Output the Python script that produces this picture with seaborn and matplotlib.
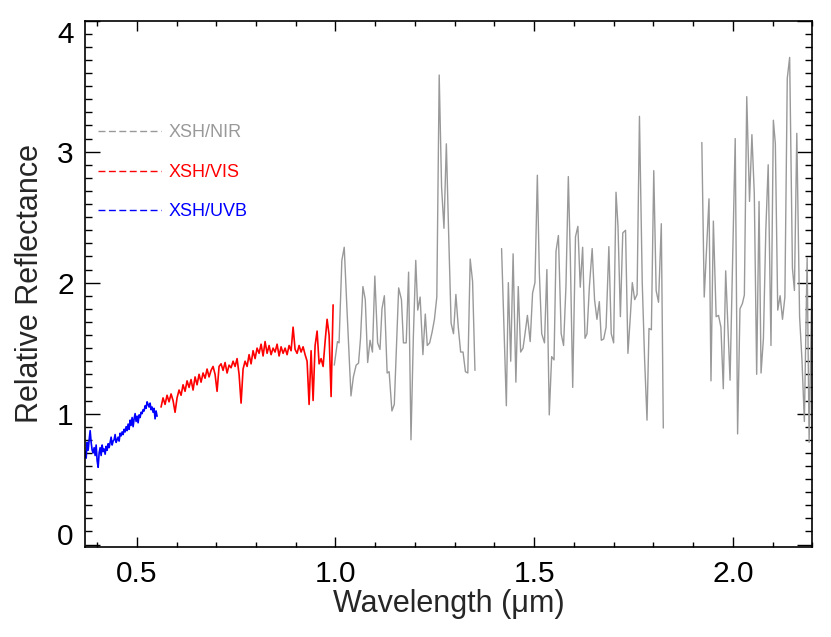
import numpy as np
import pandas as pd
import matplotlib
matplotlib.use("Agg")
import matplotlib.pyplot as plt
import seaborn as sns
from matplotlib.lines import Line2D
from matplotlib.ticker import MultipleLocator

# UVB arm (blue), uniform sampling between the first and last wavelength
uvb_range = (0.370, 0.551)
uvb_refl = [
    0.71, 0.66, 0.78, 0.72, 0.80, 0.87, 0.78, 0.72, 0.70, 0.74,
    0.68, 0.76, 0.64, 0.59, 0.70, 0.74, 0.68, 0.76, 0.71, 0.73,
    0.69, 0.75, 0.72, 0.77, 0.74, 0.78, 0.82, 0.76, 0.79, 0.80,
    0.84, 0.78, 0.80, 0.82, 0.79, 0.85, 0.83, 0.86, 0.84, 0.88,
    0.86, 0.90, 0.87, 0.92, 0.88, 0.95, 0.91, 0.97, 0.90, 0.96,
    1.00, 0.94, 0.98, 0.93, 0.99, 0.97, 1.01, 1.00, 1.03, 1.02,
    1.06, 1.04, 1.09, 1.07, 1.05, 1.08, 1.03, 1.05, 1.01, 1.04,
    0.96, 1.02, 0.98,
]

# VIS arm (red)
vis_range = (0.561, 0.994)
vis_refl = [
    1.05, 1.12, 1.07, 1.14, 1.09, 1.15, 1.10, 1.01, 1.12, 1.18,
    1.14, 1.22, 1.17, 1.25, 1.20, 1.26, 1.18, 1.28, 1.22, 1.30,
    1.24, 1.31, 1.27, 1.34, 1.28, 1.33, 1.36, 1.30, 1.17, 1.36,
    1.38, 1.33, 1.39, 1.31, 1.37, 1.35, 1.40, 1.36, 1.42, 1.30,
    1.08, 1.34, 1.40, 1.36, 1.45, 1.38, 1.48, 1.42, 1.50, 1.46,
    1.53, 1.44, 1.55, 1.46, 1.52, 1.45, 1.50, 1.47, 1.53, 1.44,
    1.51, 1.46, 1.50, 1.45, 1.52, 1.48, 1.66, 1.49, 1.46, 1.52,
    1.47, 1.51, 1.45, 1.40, 1.07, 1.48, 1.10, 1.52, 1.63, 1.38,
    1.42, 1.36, 1.55, 1.72, 1.60, 1.13, 1.83,
]

# NIR arm (grey), three pieces separated by the telluric bands
nir_wl_1 = [
    0.997, 1.005, 1.009, 1.016, 1.022, 1.029, 1.039, 1.045, 1.052, 1.058,
    1.063, 1.069, 1.075, 1.081, 1.087, 1.093, 1.099, 1.106, 1.112, 1.117,
    1.123, 1.130, 1.135, 1.142, 1.148, 1.159, 1.166, 1.171, 1.178, 1.184,
    1.190, 1.196, 1.202, 1.207, 1.213, 1.220, 1.226, 1.231, 1.237, 1.243,
    1.249, 1.255, 1.261, 1.267, 1.273, 1.279, 1.285, 1.291, 1.297, 1.303,
    1.309, 1.315, 1.321, 1.327, 1.333, 1.339, 1.345, 1.351,
]
nir_refl_1 = [
    1.37, 1.55, 1.54, 2.17, 2.27, 1.79, 1.135, 1.28, 1.37, 1.385,
    1.575, 1.97, 1.87, 1.39, 1.56, 1.47, 2.05, 1.54, 1.49, 1.80,
    1.90, 1.31, 1.32, 1.02, 1.07, 1.96, 1.87, 1.54, 1.54, 2.08,
    0.80, 1.59, 2.17, 1.79, 1.89, 1.45, 1.76, 1.52, 1.54, 1.62,
    1.72, 1.89, 3.585, 2.73, 2.415, 3.06, 2.35, 1.69, 1.61, 1.91,
    1.66, 1.47, 1.47, 1.32, 1.31, 2.18, 2.01, 1.33,
]
nir_wl_2 = [
    1.418, 1.430, 1.435, 1.441, 1.447, 1.454, 1.460, 1.466, 1.472, 1.477,
    1.483, 1.490, 1.496, 1.502, 1.508, 1.513, 1.519, 1.526, 1.532, 1.538,
    1.544, 1.550, 1.555, 1.561, 1.568, 1.574, 1.580, 1.586, 1.591, 1.597,
    1.604, 1.610, 1.616, 1.622, 1.628, 1.633, 1.639, 1.646, 1.652, 1.658,
    1.664, 1.669, 1.675, 1.681, 1.688, 1.694, 1.700, 1.706, 1.711, 1.717,
    1.723, 1.730, 1.736, 1.742, 1.747, 1.753, 1.759, 1.765, 1.772, 1.778,
    1.784, 1.789, 1.795, 1.801, 1.807, 1.813, 1.820, 1.825,
]
nir_refl_2 = [
    2.26, 1.06, 2.00, 1.40, 2.22, 1.24, 1.97, 1.47, 1.50, 1.61,
    1.75, 1.55, 1.92, 2.00, 2.82, 2.08, 1.61, 1.54, 2.10, 0.99,
    1.435, 1.41, 2.24, 2.36, 1.61, 1.52, 1.97, 2.81, 2.20, 1.20,
    2.35, 2.43, 1.965, 2.27, 1.575, 1.61, 1.97, 2.26, 1.87, 1.72,
    1.855, 1.56, 1.57, 1.66, 2.275, 1.61, 1.54, 2.69, 2.43, 1.74,
    2.38, 2.40, 1.46, 1.74, 2.00, 1.87, 1.91, 3.27, 2.00, 1.41,
    0.95, 1.65, 1.64, 2.855, 1.94, 1.85, 2.45, 0.89,
]
nir_wl_3 = [
    1.922, 1.928, 1.940, 1.945, 1.951, 1.958, 1.964, 1.970, 1.976, 1.982,
    1.993, 2.006, 2.012, 2.018, 2.024, 2.029, 2.035, 2.042, 2.048, 2.054,
    2.060, 2.066, 2.071, 2.077, 2.083, 2.089, 2.096, 2.102, 2.107, 2.113,
    2.119, 2.125, 2.131, 2.137, 2.143, 2.150, 2.155, 2.161, 2.168, 2.174,
    2.180, 2.187, 2.192, 2.199, 2.206,
]
nir_refl_3 = [
    3.07, 1.89, 2.64, 1.25, 2.47, 1.74, 1.75, 1.66, 1.19, 2.09,
    1.255, 3.10, 0.845, 1.80, 1.84, 1.905, 3.42, 2.62, 3.13, 2.68,
    1.30, 2.62, 1.31, 1.575, 2.40, 2.90, 1.52, 3.24, 3.06, 1.79,
    1.90, 1.72, 1.89, 3.56, 3.72, 2.11, 1.94, 3.14, 1.74, 1.41,
    0.94, 2.19, 0.78, 2.00, 1.30,
]

arm_labels = ["XSH/NIR", "XSH/VIS", "XSH/UVB"]
arm_colors = ["#999999", "#ff0000", "#0000ff"]

uvb = pd.DataFrame({"wl": np.linspace(*uvb_range, len(uvb_refl)), "refl": uvb_refl})
vis = pd.DataFrame({"wl": np.linspace(*vis_range, len(vis_refl)), "refl": vis_refl})
nir = pd.concat([
    pd.DataFrame({"wl": w, "refl": r, "seg": i})
    for i, (w, r) in enumerate([(nir_wl_1, nir_refl_1),
                                (nir_wl_2, nir_refl_2),
                                (nir_wl_3, nir_refl_3)])
])

sns.set_style("ticks")
plt.rcParams["font.family"] = ["Liberation Sans", "DejaVu Sans"]

fig = plt.figure(figsize=(8.31, 6.37), dpi=100)
ax = fig.add_axes([0.102, 0.141, 0.8755, 0.8265])

sns.lineplot(data=nir, x="wl", y="refl", units="seg", estimator=None,
             color=arm_colors[0], lw=1.0, ax=ax)
sns.lineplot(data=vis, x="wl", y="refl", color=arm_colors[1], lw=1.2, ax=ax)
sns.lineplot(data=uvb, x="wl", y="refl", color=arm_colors[2], lw=1.2, ax=ax)

ax.set_xlim(0.369, 2.2)
ax.set_ylim(-0.02, 4.0)
ax.xaxis.set_minor_locator(MultipleLocator(0.1))
ax.yaxis.set_minor_locator(MultipleLocator(0.1))
ax.set_xticks([0.5, 1.0, 1.5, 2.0])
ax.set_xticklabels(["0.5", "1.0", "1.5", "2.0"])
ax.set_yticks([0, 1, 2, 3, 4])
ax.set_yticklabels(["0", "1", "2", "3", "4"])
# keep the end labels inside the frame, like the original
ylabels = ax.get_yticklabels()
ylabels[0].set_va("baseline")
ylabels[-1].set_va("top")

ax.tick_params(axis="both", which="both", direction="in",
               top=True, right=True, colors="black", width=1.0)
ax.tick_params(axis="x", which="major", length=7.5, labelsize=21.5, pad=9)
ax.tick_params(axis="x", which="minor", length=3.8)
ax.tick_params(axis="y", which="major", length=10.5, labelsize=21.5, pad=8)
ax.tick_params(axis="y", which="minor", length=5)
for s in ax.spines.values():
    s.set_linewidth(1.2)
    s.set_color("black")

ax.set_xlabel("Wavelength (\u03bcm)", fontsize=22, labelpad=1)
ax.set_ylabel("Relative Reflectance", fontsize=22, labelpad=9)

handles = [Line2D([], [], color=c, lw=1.0, linestyle=(0, (5, 2.5)))
           for c in arm_colors]
leg = ax.legend(handles, arm_labels, loc="upper left",
                bbox_to_anchor=(0.008, 0.817), frameon=False, fontsize=13,
                handlelength=3.5, handletextpad=0.4, labelspacing=1.25,
                labelcolor=arm_colors, borderaxespad=0)

fig.savefig("out.png", dpi=100)
